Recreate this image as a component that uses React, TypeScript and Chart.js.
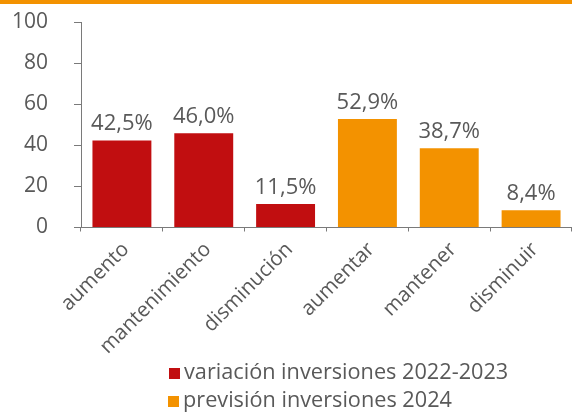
import React, { useEffect, useRef } from "react";
import { Chart, registerables } from "chart.js";

Chart.register(...registerables);

const categories = ["aumento", "mantenimiento", "disminución", "aumentar", "mantener", "disminuir"];
const seriesNames = ["variación inversiones 2022-2023", "previsión inversiones 2024"];
const variacion: (number | null)[] = [42.5, 46.0, 11.5, null, null, null];
const prevision: (number | null)[] = [null, null, null, 52.9, 38.7, 8.4];
const yTicks = [0, 20, 40, 60, 80, 100];

const RED = "#C10E10";
const ORANGE = "#F39200";
const TEXT = "#595959";
const AXIS = "#7a7a7a";
const FONT = "'Open Sans', sans-serif";
const colors = [RED, ORANGE];

const fmt = (v: number) => v.toFixed(1).replace(".", ",") + "%";

const topBand = {
  id: "topBand",
  beforeDraw(chart: any) {
    const ctx = chart.ctx;
    ctx.save();
    ctx.fillStyle = ORANGE;
    ctx.fillRect(0, 0, chart.width, 4);
    ctx.restore();
  },
};

const valueLabels = {
  id: "valueLabels",
  afterDatasetsDraw(chart: any) {
    const ctx = chart.ctx;
    ctx.save();
    ctx.font = `22px ${FONT}`;
    ctx.fillStyle = TEXT;
    ctx.textAlign = "center";
    ctx.textBaseline = "alphabetic";
    chart.data.datasets.forEach((ds: any, i: number) => {
      const meta = chart.getDatasetMeta(i);
      meta.data.forEach((el: any, j: number) => {
        const v = ds.data[j];
        if (v === null || v === undefined) return;
        ctx.fillText(fmt(v), el.x, el.y - 10);
      });
    });
    ctx.restore();
  },
};

const customLegend = {
  id: "customLegend",
  afterDraw(chart: any) {
    const ctx = chart.ctx;
    ctx.save();
    ctx.font = `21.7px ${FONT}`;
    ctx.textBaseline = "alphabetic";
    ctx.textAlign = "left";
    const x0 = [169, 168];
    const baselines = [379, 407];
    chart.data.datasets.forEach((ds: any, i: number) => {
      const b = baselines[i];
      ctx.fillStyle = ds.backgroundColor;
      ctx.fillRect(x0[i], b - 11, 11, 11);
      ctx.fillStyle = TEXT;
      ctx.fillText(ds.label, x0[i] + 15, b);
    });
    ctx.restore();
  },
};

export default function App() {
  const ref = useRef<HTMLCanvasElement>(null);
  useEffect(() => {
    if (!ref.current) return;
    const chart = new Chart(ref.current, {
      type: "bar",
      data: {
        labels: categories,
        datasets: [variacion, prevision].map((d, i) => ({
          label: seriesNames[i],
          data: d,
          backgroundColor: colors[i],
          grouped: false,
          barPercentage: 0.72,
          categoryPercentage: 1,
        })) as any,
      },
      options: {
        animation: false,
        responsive: false,
        maintainAspectRatio: false,
        layout: { padding: { top: 22.5, left: 0, right: 0, bottom: 54.5 } },
        plugins: { legend: { display: false }, tooltip: { enabled: false } },
        scales: {
          x: {
            offset: true,
            grid: { offset: true, drawOnChartArea: false, tickLength: 4, color: AXIS },
            border: { color: AXIS },
            ticks: { minRotation: 45, maxRotation: 45, autoSkip: false, padding: 6, labelOffset: 4, color: TEXT, font: { size: 20.5, family: FONT } },
            afterFit: (s: any) => { s.height = 130; s.paddingLeft = 0; s.paddingRight = 0; },
          },
          y: {
            min: 0,
            max: 100,
            afterBuildTicks: (s: any) => { s.ticks = yTicks.map((v) => ({ value: v })); },
            grid: { drawOnChartArea: false, tickLength: 7, color: AXIS },
            border: { color: AXIS },
            ticks: { padding: 26, color: TEXT, font: { size: 21, family: FONT } },
            afterFit: (s: any) => { s.width = 81; s.paddingTop = 0; s.paddingBottom = 0; },
          },
        },
      },
      plugins: [topBand, valueLabels, customLegend],
    });
    return () => chart.destroy();
  }, []);
  return (
    <div style={{ position: "fixed", left: 0, top: 0, width: 572, height: 412, background: "#fff" }}>
      <canvas ref={ref} width={572} height={412} style={{ width: 572, height: 412, display: "block" }} />
    </div>
  );
}
